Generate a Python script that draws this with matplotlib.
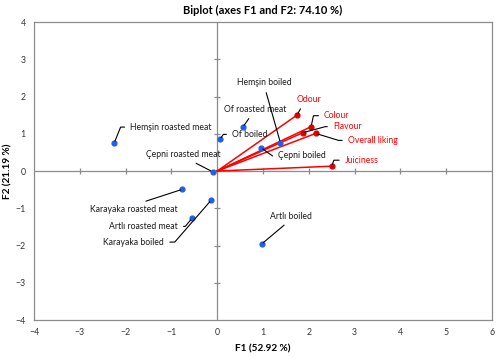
import numpy as np
import matplotlib.pyplot as plt

plt.rcParams['font.family'] = ['Lato', 'DejaVu Sans']

# observations (F1, F2)
obs_names = ['Hemşin roasted meat', 'Of boiled', 'Of roasted meat', 'Hemşin boiled',
             'Çepni boiled', 'Çepni roasted meat', 'Karayaka roasted meat',
             'Artlı roasted meat', 'Karayaka boiled', 'Artlı boiled']
obs_f1 = [-2.25, 0.06, 0.56, 1.38, 0.96, -0.10, -0.76, -0.55, -0.13, 0.97]
obs_f2 = [0.75, 0.85, 1.18, 0.76, 0.62, -0.02, -0.49, -1.27, -0.78, -1.96]

# variables (F1, F2)
var_names = ['Odour', 'Colour', 'Flavour', 'Overall liking', 'Juiciness']
var_f1 = [1.74, 2.05, 1.87, 2.15, 2.50]
var_f2 = [1.50, 1.19, 1.03, 1.01, 0.13]

xticks = [-4, -3, -2, -1, 0, 1, 2, 3, 4, 5, 6]
yticks = [-4, -3, -2, -1, 0, 1, 2, 3, 4]

# label placement: offset in pixels (dx, dy), ha, va, relpos, connection angle (None = straight)
obs_lab = {
    'Hemşin roasted meat': (16, 16, 'left', 'center', (0, 0.5), 68),
    'Of boiled': (12, 5, 'left', 'center', (0, 0.5), 56),
    'Of roasted meat': (12, 18, 'center', 'center', (0.47, 0.1), None),
    'Hemşin boiled': (-16, 60, 'center', 'center', (0.5, 0.1), None),
    'Çepni boiled': (17, -8, 'left', 'center', (0, 0.5), -35),
    'Çepni roasted meat': (-29, 17, 'center', 'center', (0.55, 0.05), None),
    'Karayaka roasted meat': (-49, -20, 'center', 'center', (0.5, 0.95), None),
    'Artlı roasted meat': (-14, -8, 'right', 'center', (1, 0.5), 50),
    'Karayaka boiled': (-47, -42, 'right', 'center', (1, 0.5), 49),
    'Artlı boiled': (29, 28, 'center', 'center', (0.5, 0.1), None),
}
var_lab = {
    'Odour': (12, 16, 'center', 'center', (0.3, 0.1), None),
    'Colour': (13, 11, 'left', 'center', (0, 0.5), 78),
    'Flavour': (30, 6, 'left', 'center', (0, 0.5), 15),
    'Overall liking': (32, -7, 'left', 'center', (0, 0.5), -17),
    'Juiciness': (13, 6, 'left', 'center', (0, 0.5), 70),
}

fig = plt.figure(figsize=(5, 3.58), dpi=100)
ax = fig.add_axes([0.068, 0.106, 0.916, 0.8325])
ax.set_xlim(-4, 6)
ax.set_ylim(-4, 4)

grey = '#8c8c8c'
for s in ax.spines.values():
    s.set_color(grey)
    s.set_linewidth(0.9)
ax.axhline(0, color=grey, lw=0.9, zorder=1)
ax.axvline(0, color=grey, lw=0.9, zorder=1)
ax.plot(xticks[1:-1], [0] * (len(xticks) - 2), ls='none', marker='|', ms=4, mew=0.9, color=grey, zorder=1)
ax.plot([0] * (len(yticks) - 2), yticks[1:-1], ls='none', marker='_', ms=5, mew=0.9, color=grey, zorder=1)

ax.set_xticks(xticks)
ax.set_yticks(yticks)
ax.tick_params(axis='x', length=0, labelsize=6.3, labelcolor='#333333', pad=6)
ax.tick_params(axis='y', length=0, labelsize=6.3, labelcolor='#333333', pad=6)

# variable vectors
for x, y in zip(var_f1, var_f2):
    ax.plot([0, x], [0, y], color='#ff0000', lw=1.1, zorder=2)
ax.scatter(var_f1, var_f2, s=12, color='#e00000', zorder=3)

# observations
ax.scatter(obs_f1, obs_f2, s=12, color='#2060e8', zorder=3)


def label(name, x, y, spec, color):
    dx, dy, ha, va, rp, ang = spec
    if ang is None:
        cs = 'arc3'
    else:
        cs = f'angle,angleA=0,angleB={ang},rad=0'
    ax.annotate(name, (x, y), xytext=(dx * 0.72, dy * 0.72), textcoords='offset points',
                ha=ha, va=va, fontsize=6.2, color=color,
                arrowprops=dict(arrowstyle='-', color='black', lw=0.8,
                                connectionstyle=cs, relpos=rp, shrinkA=2, shrinkB=1.5))


for n, x, y in zip(obs_names, obs_f1, obs_f2):
    label(n, x, y, obs_lab[n], '#1a1a1a')
for n, x, y in zip(var_names, var_f1, var_f2):
    label(n, x, y, var_lab[n], '#ff0000')

ax.set_xlabel('F1 (52.92 %)', fontsize=7.2, fontweight='bold', labelpad=5)
ax.set_ylabel('F2 (21.19 %)', fontsize=7.2, fontweight='bold')
ax.yaxis.set_label_coords(-0.047, 0.5)
ax.set_title('Biplot (axes F1 and F2: 74.10 %)', fontsize=8, fontweight='bold', pad=6)

fig.savefig('out.png', dpi=100)
